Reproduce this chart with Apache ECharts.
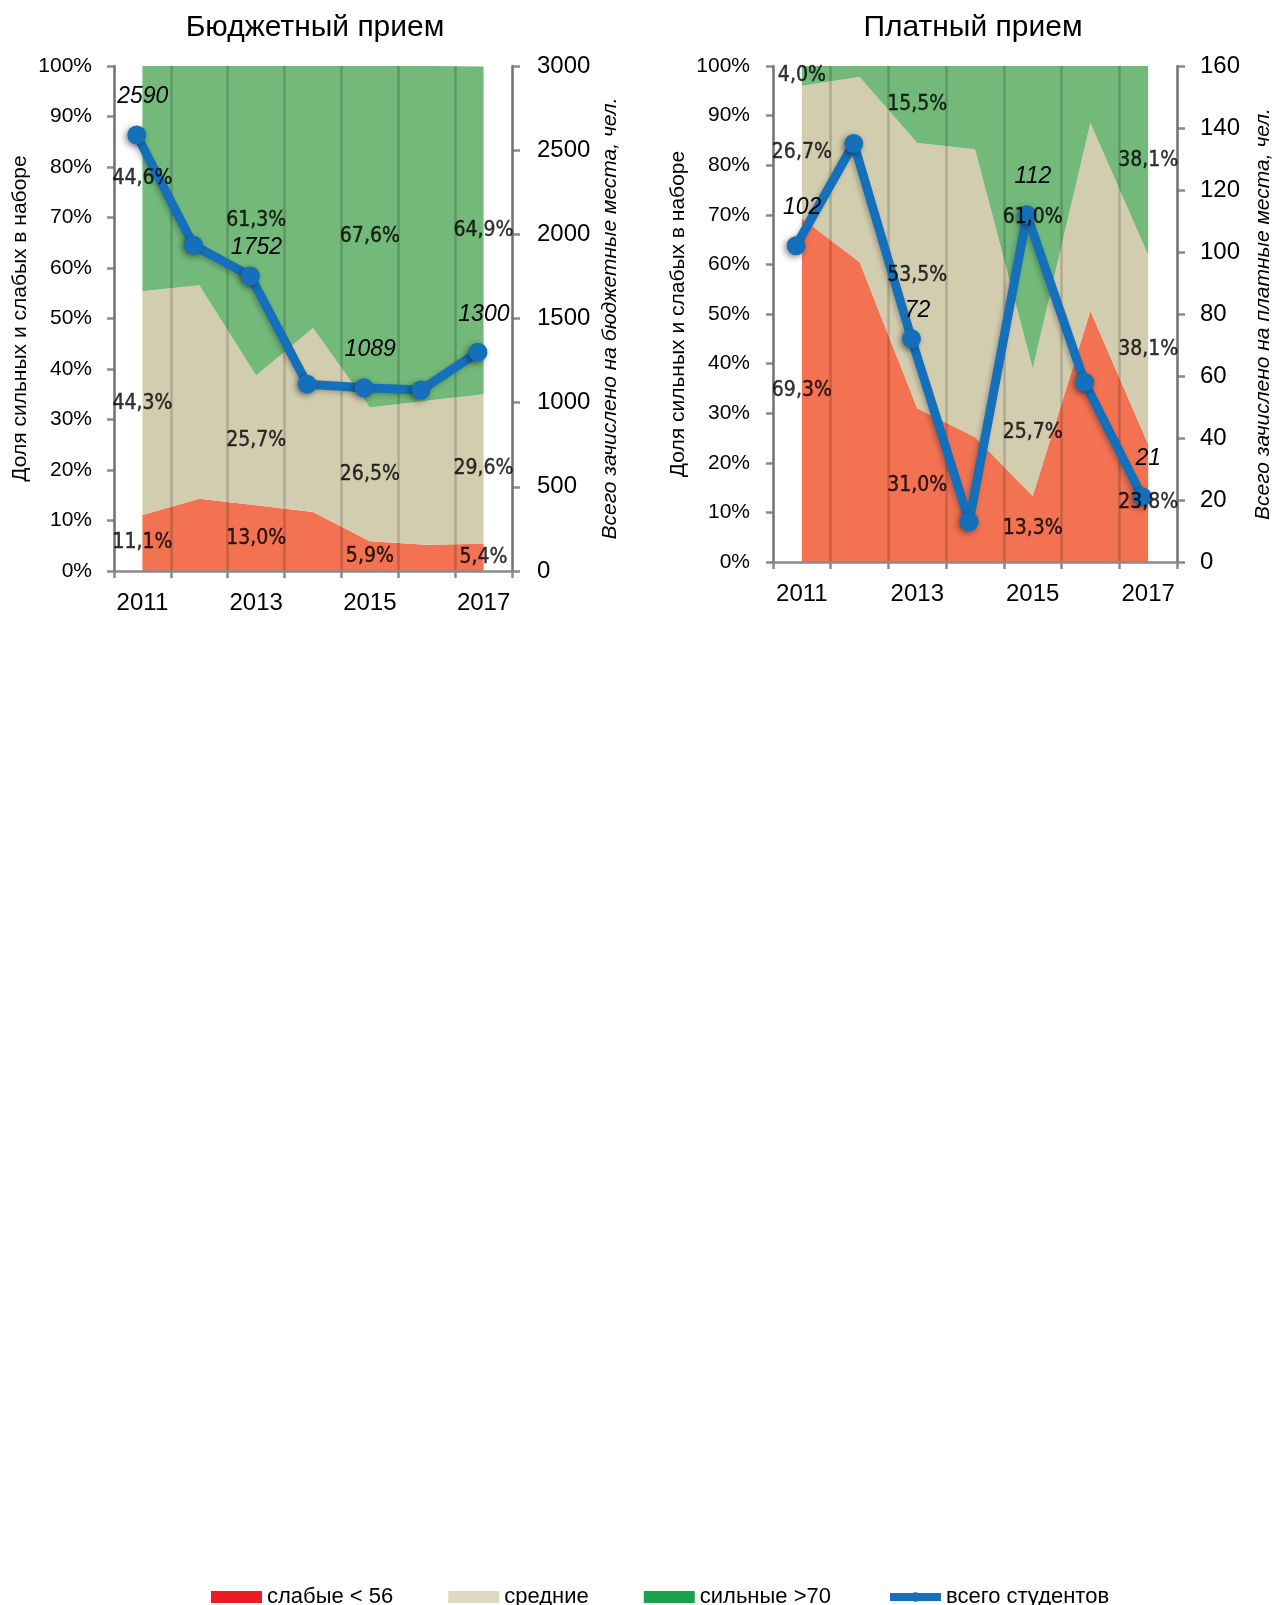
<!DOCTYPE html>
<html>
<head>
<meta charset="utf-8">
<script src="https://cdn.jsdelivr.net/npm/echarts@6/dist/echarts.min.js"></script>
<style>
html,body{margin:0;padding:0;background:#fff;}
#chart{width:1274px;height:1605px;}
</style>
</head>
<body>
<div id="chart"></div>
<script>
// ---------- DATA ----------
const years = ['2011', '2012', '2013', '2014', '2015', '2016', '2017'];
const labeledIdx = [0, 2, 4, 6];

// Бюджетный прием (budget admission), % of intake
const budgetWeak   = [11.1, 14.3, 13.0, 11.7, 5.9, 5.2, 5.4];
const budgetMid    = [44.3, 42.3, 25.7, 36.4, 26.5, 28.5, 29.6];
const budgetStrong = [44.6, 43.4, 61.3, 51.9, 67.6, 66.3, 64.9];
const budgetTotal  = [2590, 1935, 1752, 1110, 1089, 1075, 1300];

// Платный прием (paid admission), % of intake
const paidWeak   = [69.3, 60.5, 31.0, 25.2, 13.3, 50.6, 23.8];
const paidMid    = [26.7, 37.3, 53.5, 58.0, 25.7, 37.9, 38.1];
const paidStrong = [4.0, 2.2, 15.5, 16.8, 61.0, 11.5, 38.1];
const paidTotal  = [102, 135, 72, 13, 112, 58, 21];

const pctTicks = [0, 10, 20, 30, 40, 50, 60, 70, 80, 90, 100];
const budgetTicks = [0, 500, 1000, 1500, 2000, 2500, 3000];
const paidTicks = [0, 20, 40, 60, 80, 100, 120, 140, 160];

const names = {
  weak: 'слабые < 56',
  mid: 'средние',
  strong: 'сильные >70',
  total: 'всего студентов'
};

// ---------- STYLE ----------
const C = {
  weak: '#f27252', mid: '#d3cdb0', strong: '#72b97a',
  legWeak: '#ed1c24', legMid: '#ddd9c3', legStrong: '#1ba34b',
  line: '#1570bb', axis: '#8a8a8a'
};
const SANS = '"Liberation Sans", Arial, Helvetica, sans-serif';
const COND = '"DejaVu Sans Condensed", "DejaVu Sans", sans-serif';

function fmtPct(v) { return v.toFixed(1).replace('.', ',') + '%'; }

function catAxis(grid) {
  return {
    type: 'category', gridIndex: grid, data: years, boundaryGap: true, z: 3,
    axisLine: { show: true, onZero: false, lineStyle: { color: C.axis, width: 2.5 } },
    axisTick: { show: true, interval: 0, length: 7, lineStyle: { color: C.axis, width: 2.5 } },
    axisLabel: { interval: 1, fontSize: 24, color: '#000', fontFamily: SANS, margin: 20 },
    splitLine: { show: true, interval: 0, lineStyle: { color: 'rgba(0,0,0,0.17)', width: 2.5 } }
  };
}
function hiddenX(grid) {
  return { type: 'value', gridIndex: grid, min: -0.4, max: 6.6, show: false,
    axisLine: { onZero: false } };
}
function pctAxis(grid, margin, nameGap) {
  return {
    type: 'value', gridIndex: grid, position: 'left', min: pctTicks[0], max: pctTicks[pctTicks.length - 1],
    interval: pctTicks[1] - pctTicks[0],
    name: 'Доля сильных и слабых в наборе', nameLocation: 'middle', nameGap: nameGap,
    nameTextStyle: { fontSize: 21, color: '#000', fontFamily: SANS },
    axisLine: { show: true, onZero: false, lineStyle: { color: C.axis, width: 2.5 } },
    axisTick: { show: true, length: 7, lineStyle: { color: C.axis, width: 2.5 } },
    axisLabel: { formatter: '{value}%', fontSize: 21, color: '#000', fontFamily: SANS, margin: margin },
    splitLine: { show: false }
  };
}
function countAxis(grid, ticks, title, margin, nameGap) {
  return {
    type: 'value', gridIndex: grid, position: 'right', min: ticks[0], max: ticks[ticks.length - 1],
    interval: ticks[1] - ticks[0],
    name: title, nameLocation: 'middle', nameGap: nameGap,
    nameTextStyle: { fontSize: 21, color: '#000', fontFamily: SANS, fontStyle: 'italic' },
    axisLine: { show: true, onZero: false, lineStyle: { color: C.axis, width: 2.5 } },
    axisTick: { show: true, length: 8, lineStyle: { color: C.axis, width: 2.5 } },
    axisLabel: { formatter: v => String(v), fontSize: 24, color: '#000', fontFamily: SANS, margin: margin },
    splitLine: { show: false }
  };
}
function areaSeries(name, data, color, xi, yi, stack) {
  return {
    name: name, type: 'line', xAxisIndex: xi, yAxisIndex: yi, stack: stack,
    data: data, symbol: 'none', silent: true, z: 2,
    lineStyle: { width: 0, color: color }, itemStyle: { color: color },
    areaStyle: { color: color, opacity: 1 }
  };
}
function lineSeries(values, xi, yi, closeIdx) {
  return {
    name: names.total, type: 'line', xAxisIndex: xi, yAxisIndex: yi, z: 5, silent: true,
    data: values.map((v, i) => {
      const show = labeledIdx.indexOf(i) >= 0;
      return {
        value: [i, v],
        label: {
          show: show, position: 'top', distance: closeIdx === i ? 7 : 17, offset: [6, 0],
          formatter: String(v), fontSize: 23, fontStyle: 'italic', color: '#000', fontFamily: SANS
        }
      };
    }),
    symbol: 'circle', symbolSize: 19, color: C.line,
    lineStyle: { width: 9, color: C.line, shadowBlur: 5, shadowColor: 'rgba(0,0,0,0.25)', shadowOffsetX: -2, shadowOffsetY: 2 },
    itemStyle: { color: C.line, shadowBlur: 6, shadowColor: 'rgba(0,0,0,0.45)', shadowOffsetX: -2, shadowOffsetY: 2 }
  };
}
function labelSeries(bands, xi, yi) {
  const pts = [];
  labeledIdx.forEach(i => {
    let base = 0;
    bands.forEach(b => {
      pts.push({ value: [i, base + b[i] / 2], txt: fmtPct(b[i]) });
      base += b[i];
    });
  });
  return {
    name: 'labels' + xi, type: 'scatter', xAxisIndex: xi, yAxisIndex: yi, z: 10, silent: true,
    symbol: 'circle', symbolSize: 1, itemStyle: { color: 'rgba(0,0,0,0)' },
    data: pts,
    label: {
      show: true, position: 'inside', formatter: p => p.data.txt,
      fontSize: 21, color: '#000', fontFamily: COND, textBorderColor: '#000', textBorderWidth: 0.4
    }
  };
}

const option = {
  animation: false,
  backgroundColor: '#fff',
  title: [
    { text: 'Бюджетный прием', left: 310, top: 8, textAlign: 'center',
      textStyle: { fontSize: 30, fontWeight: 'normal', color: '#000', fontFamily: SANS } },
    { text: 'Платный прием', left: 968, top: 8, textAlign: 'center',
      textStyle: { fontSize: 30, fontWeight: 'normal', color: '#000', fontFamily: SANS } }
  ],
  legend: {
    left: 206, top: 1581, itemWidth: 51, itemHeight: 12, itemGap: 55, selectedMode: false,
    textStyle: { fontSize: 22, color: '#000', fontFamily: SANS },
    data: [
      { name: names.weak, icon: 'rect', itemStyle: { color: C.legWeak } },
      { name: names.mid, icon: 'rect', itemStyle: { color: C.legMid } },
      { name: names.strong, icon: 'rect', itemStyle: { color: C.legStrong } },
      { name: names.total, lineStyle: { width: 8, color: C.line }, itemStyle: { color: C.line } }
    ]
  },
  grid: [
    { left: 114, top: 66, width: 398, height: 505, containLabel: false, outerBoundsMode: 'none' },
    { left: 773, top: 66, width: 404, height: 496, containLabel: false, outerBoundsMode: 'none' }
  ],
  xAxis: [catAxis(0), hiddenX(0), catAxis(1), hiddenX(1)],
  yAxis: [
    pctAxis(0, 22, 83),
    countAxis(0, budgetTicks, 'Всего зачислено на бюджетные места, чел.', 25, 88),
    pctAxis(1, 23, 84),
    countAxis(1, paidTicks, 'Всего зачислено на платные места, чел.', 23, 76)
  ],
  series: [
    areaSeries(names.weak, budgetWeak, C.weak, 0, 0, 'b'),
    areaSeries(names.mid, budgetMid, C.mid, 0, 0, 'b'),
    areaSeries(names.strong, budgetStrong, C.strong, 0, 0, 'b'),
    lineSeries(budgetTotal, 1, 1, 2),
    labelSeries([budgetWeak, budgetMid, budgetStrong], 0, 0),

    areaSeries(names.weak, paidWeak, C.weak, 2, 2, 'p'),
    areaSeries(names.mid, paidMid, C.mid, 2, 2, 'p'),
    areaSeries(names.strong, paidStrong, C.strong, 2, 2, 'p'),
    lineSeries(paidTotal, 3, 3, 2),
    labelSeries([paidWeak, paidMid, paidStrong], 2, 2)
  ]
};

const chart = echarts.init(document.getElementById('chart'), null, { renderer: 'canvas' });
chart.setOption(option);
</script>
</body>
</html>
